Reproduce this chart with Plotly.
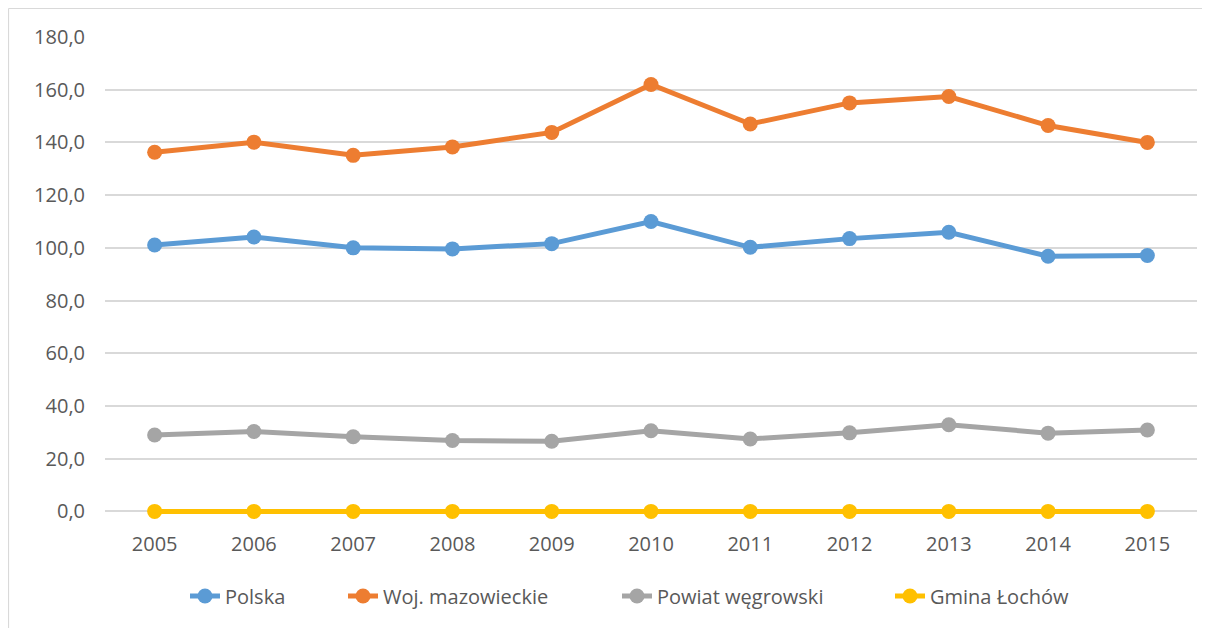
import plotly.graph_objects as go

years = ["2005", "2006", "2007", "2008", "2009", "2010", "2011", "2012", "2013", "2014", "2015"]
polska = [101.1, 104.1, 100.0, 99.6, 101.6, 110.0, 100.2, 103.5, 105.9, 96.8, 97.1]
mazowieckie = [136.3, 140.1, 135.1, 138.3, 143.8, 162.0, 147.0, 155.0, 157.4, 146.4, 140.0]
wegrowski = [29.0, 30.3, 28.3, 26.9, 26.6, 30.6, 27.5, 29.8, 32.9, 29.7, 30.9]
lochow = [0.0, 0.0, 0.0, 0.0, 0.0, 0.0, 0.0, 0.0, 0.0, 0.0, 0.0]

names = ["Polska", "Woj. mazowieckie", "Powiat węgrowski", "Gmina Łochów"]
colors = ["#5B9BD5", "#ED7D31", "#A5A5A5", "#FFC000"]
series = [polska, mazowieckie, wegrowski, lochow]
legend_ids = ["legend", "legend2", "legend3", "legend4"]

# page body has an 8px margin, so figure coords = window coords - 8
OFF = 8
legend_text_px = [225, 383, 657, 930]

W, H = 1202, 620
L, R, T, B = 97, 13, 29, 110
FONT = "Open Sans"
TXT = "#595959"

fig = go.Figure()
for name, col, vals, lid in zip(names, colors, series, legend_ids):
    fig.add_trace(go.Scatter(
        x=years, y=vals, name=name, mode="lines+markers",
        line=dict(color=col, width=5),
        marker=dict(color=col, size=15),
        cliponaxis=False, legend=lid,
    ))

pw = W - L - R
ph = H - T - B
ymin, ymax = -2.5, 180
def px2x(p):
    return (p - L) / pw
def py2y(p):
    return (H - B - p) / ph

leg_common = dict(
    orientation="h", xref="container", yref="container",
    xanchor="left", y=1 - (596 - OFF) / H, yanchor="middle",
    font=dict(family=FONT, size=20, color=TXT),
    itemwidth=30, bgcolor="rgba(0,0,0,0)",
)
legends = {}
for lid, tx in zip(legend_ids, legend_text_px):
    legends[lid] = dict(leg_common, x=(tx - 40 - OFF) / W)

border = dict(color="#D9D9D9", width=1.2)
fig.update_layout(
    width=W, height=H,
    margin=dict(l=L, r=R, t=T, b=B, autoexpand=False),
    paper_bgcolor="white", plot_bgcolor="white",
    separators=", ",
    font=dict(family=FONT, size=20, color=TXT),
    showlegend=True,
    xaxis=dict(
        type="category", range=[-0.5, len(years) - 0.5],
        showgrid=False, zeroline=False, showline=False, automargin=False,
        ticks="outside", ticklen=8, tickcolor="rgba(0,0,0,0)",
        tickfont=dict(family=FONT, size=20, color=TXT),
    ),
    yaxis=dict(
        range=[ymin, ymax], tick0=0, dtick=20, tickformat=".1f",
        showgrid=True, gridcolor="#D9D9D9", gridwidth=1.5,
        zeroline=False, showline=False, automargin=False,
        ticks="outside", ticklen=15, tickcolor="rgba(0,0,0,0)",
        tickfont=dict(family=FONT, size=20, color=TXT),
    ),
    shapes=[
        dict(type="line", xref="paper", yref="paper",
             x0=px2x(0.5), x1=px2x(W), y0=py2y(0.5), y1=py2y(0.5),
             line=border, layer="below"),
        dict(type="line", xref="paper", yref="paper",
             x0=px2x(0.5), x1=px2x(0.5), y0=py2y(0.5), y1=py2y(H),
             line=border, layer="below"),
    ],
    **legends,
)

fig.write_html("out.html")
